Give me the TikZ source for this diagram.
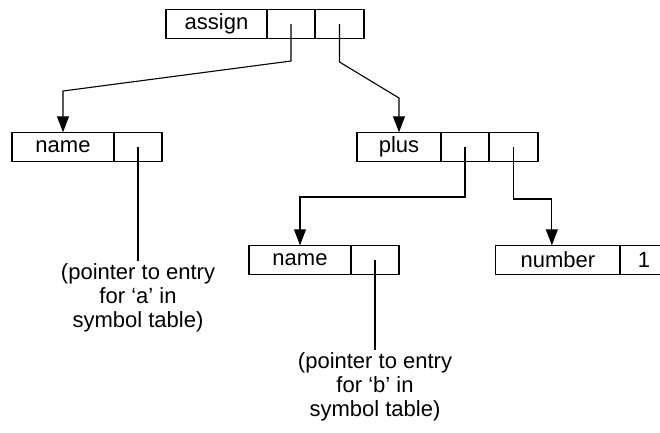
\documentclass[tikz,border=0pt]{standalone}
\usepackage{fontspec}
\setmainfont{Liberation Sans}
\usetikzlibrary{arrows.meta}
\begin{document}
\begin{tikzpicture}[x=1pt,y=-1pt,
  field/.style={draw, line width=1.1pt, minimum height=29.5pt, inner sep=0pt, outer sep=0pt, anchor=west, font=\fontsize{22}{24}\selectfont},
  link/.style={line width=1.1pt, line join=miter},
  ptr/.style={link, -{Triangle[length=16pt,width=12pt]}},
  note/.style={align=center, inner sep=2pt, anchor=north, font=\fontsize{22}{24}\selectfont}]
\useasboundingbox (0,0) rectangle (660,432);
% assign record
\node[field, minimum width=101pt] (asgL) at (166,24) {assign};
\node[field, minimum width=48pt] (asg1) at (asgL.east) {};
\node[field, minimum width=49pt] (asg2) at (asg1.east) {};
% name (a) record
\node[field, minimum width=102pt] (nm1L) at (12,147) {name};
\node[field, minimum width=48pt] (nm1C) at (nm1L.east) {};
% plus record
\node[field, minimum width=84pt] (plusL) at (357,147) {plus};
\node[field, minimum width=48pt] (plus1) at (plusL.east) {};
\node[field, minimum width=49pt] (plus2) at (plus1.east) {};
% name (b) record
\node[field, minimum width=102pt] (nm2L) at (249,260) {name};
\node[field, minimum width=48pt] (nm2C) at (nm2L.east) {};
% number record
\node[field, minimum width=124.3pt] (numL) at (495.7,260) {number};
\node[field, minimum width=48pt] (numC) at (numL.east) {1};
% notes
\node[note] (t1) at (nm1C.center |- 0,261) {(pointer to entry\\for ‘a’ in\\symbol table)};
\node[note] (t2) at (nm2C.center |- 0,350) {(pointer to entry\\for ‘b’ in\\symbol table)};
% connectors
\coordinate (numIn) at ([xshift=-6pt]numL.north);
\draw[ptr] (asg1.center) -- (asg1.center |- 0,61) -- (nm1L.north |- 0,91) -- (nm1L.north);
\draw[ptr] (asg2.center) -- (asg2.center |- 0,62) -- (plusL.north |- 0,98) -- (plusL.north);
\draw[ptr] (plus1.center) -- (plus1.center |- 0,197) -- (nm2L.north |- 0,197) -- (nm2L.north);
\draw[ptr] (plus2.center) -- (plus2.center |- 0,199) -- (numIn |- 0,199) -- (numIn);
\draw[link] (nm1C.center) -- (t1.north);
\draw[link] (nm2C.center) -- (t2.north);
\end{tikzpicture}
\end{document}
